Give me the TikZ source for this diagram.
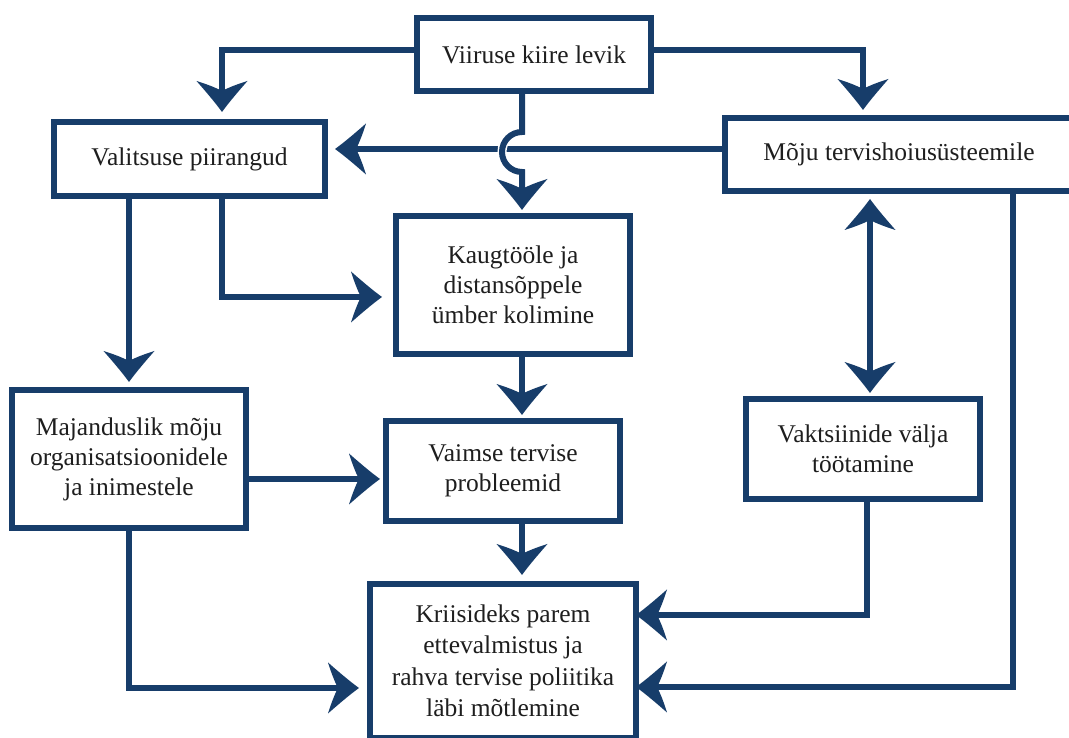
\documentclass[tikz,border=0pt]{standalone}
\usepackage{fontspec}
\setmainfont{Liberation Serif}
\usetikzlibrary{arrows.meta,calc}
\definecolor{boxc}{RGB}{23,61,106}
\definecolor{textc}{RGB}{30,30,30}
\pgfdeclarearrow{
  name = Swoop,
  parameters = {\the\pgfarrowlength,\the\pgfarrowwidth},
  setup code = {
    \pgfarrowssettipend{\pgfarrowlength}
    \pgfarrowssetlineend{0.45\pgfarrowlength}
    \pgfarrowssetbackend{0pt}
    \pgfarrowsupperhullpoint{0pt}{0.5\pgfarrowwidth}
    \pgfarrowsupperhullpoint{\pgfarrowlength}{0pt}
    \pgfarrowssavethe\pgfarrowlength
    \pgfarrowssavethe\pgfarrowwidth
  },
  drawing code = {
    \pgfpathmoveto{\pgfpoint{\pgfarrowlength}{0pt}}
    \pgfpathcurveto{\pgfpoint{0.68\pgfarrowlength}{0.14\pgfarrowwidth}}{\pgfpoint{0.3\pgfarrowlength}{0.34\pgfarrowwidth}}{\pgfpoint{0pt}{0.5\pgfarrowwidth}}
    \pgfpathcurveto{\pgfpoint{0.1\pgfarrowlength}{0.3\pgfarrowwidth}}{\pgfpoint{0.22\pgfarrowlength}{0.12\pgfarrowwidth}}{\pgfpoint{0.32\pgfarrowlength}{0pt}}
    \pgfpathcurveto{\pgfpoint{0.22\pgfarrowlength}{-0.12\pgfarrowwidth}}{\pgfpoint{0.1\pgfarrowlength}{-0.3\pgfarrowwidth}}{\pgfpoint{0pt}{-0.5\pgfarrowwidth}}
    \pgfpathcurveto{\pgfpoint{0.3\pgfarrowlength}{-0.34\pgfarrowwidth}}{\pgfpoint{0.68\pgfarrowlength}{-0.14\pgfarrowwidth}}{\pgfpoint{\pgfarrowlength}{0pt}}
    \pgfpathclose
    \pgfusepathqfill
  },
  defaults = {length = 31pt, width = 51pt}
}
\tikzset{
  box/.style={draw=boxc, line width=6pt, fill=white, inner sep=0pt, align=center,
    text=textc, font=\fontsize{25.5}{30}\selectfont},
  conn/.style={draw=boxc, line width=6pt, -{Swoop}},
  dconn/.style={draw=boxc, line width=6pt, {Swoop}-{Swoop}}
}
\begin{document}
\begin{tikzpicture}[x=1pt,y=1pt]
\useasboundingbox (0,0) rectangle (1069,738);
% nodes
\node[box, minimum width=234pt, minimum height=73pt] (vir) at (534,683.5) {Viiruse kiire levik};
\node[box, minimum width=271pt, minimum height=74pt] (val) at (189.5,579) {Valitsuse piirangud};
\node[box, minimum width=348pt, minimum height=73pt] (moju) at (899,583.5) {Mõju tervishoiusüsteemile};
\node[box, minimum width=234pt, minimum height=138pt] (kaug) at (513,453) {Kaugtööle ja\\distansõppele\\ümber kolimine};
\node[box, minimum width=234pt, minimum height=138pt] (maj) at (129,279) {Majanduslik mõju\\organisatsioonidele\\ja inimestele};
\node[box, minimum width=234pt, minimum height=100pt] (vaim) at (503,267) {Vaimse tervise\\probleemid};
\node[box, minimum width=234pt, minimum height=100pt] (vakt) at (863,289) {Vaktsiinide välja\\töötamine};
\node[box, minimum width=266pt, minimum height=154pt, font=\fontsize{25.5}{31.5}\selectfont] (kriis) at (503,77) {Kriisideks parem\\ettevalmistus ja\\rahva tervise poliitika\\läbi mõtlemine};
% connectors
\draw[conn, shorten >=7pt] ([yshift=4.5pt]vir.west) -| ([xshift=32.5pt]val.north);
\draw[conn, shorten >=5pt] ([yshift=4.5pt]vir.east) -| ([xshift=-36pt]moju.north);
\draw[conn, shorten >=7pt] ([yshift=5.5pt]moju.west) -- ([yshift=10pt]val.east);
\draw[draw=white, line width=9pt] ([xshift=-12pt]vir.south) ++(0,-38) arc[start angle=90, end angle=270, radius=20];
\draw[conn, shorten >=3pt] ([xshift=-12pt]vir.south) -- ++(0,-38) arc[start angle=90, end angle=270, radius=20] -- ([xshift=9pt]kaug.north);
\draw[conn, shorten >=5pt] ([xshift=-60.5pt]val.south) -- (maj.north);
\draw[conn, shorten >=11pt] ([xshift=32.5pt]val.south) |- ([yshift=-12pt]kaug.west);
\draw[conn, shorten >=3pt] ([xshift=9pt]kaug.south) -- ([xshift=19pt]vaim.north);
\draw[conn, shorten >=3pt] ([yshift=-20pt]maj.east) -- ([yshift=-8pt]vaim.west);
\draw[conn, shorten >=6pt] ([xshift=19pt]vaim.south) -- ([xshift=19pt]kriis.north);
\draw[conn, shorten >=8pt] (maj.south) |- ([yshift=-27pt]kriis.west);
\draw[dconn, shorten <=5pt, shorten >=3pt] ([xshift=-29pt]moju.south) -- ([xshift=7pt]vakt.north);
\draw[conn, shorten >=-3pt] ([xshift=4pt]vakt.south) |- ([yshift=46pt]kriis.east);
\draw[conn, shorten >=-3pt] ([xshift=114pt]moju.south) |- ([yshift=-26pt]kriis.east);
\end{tikzpicture}
\end{document}
